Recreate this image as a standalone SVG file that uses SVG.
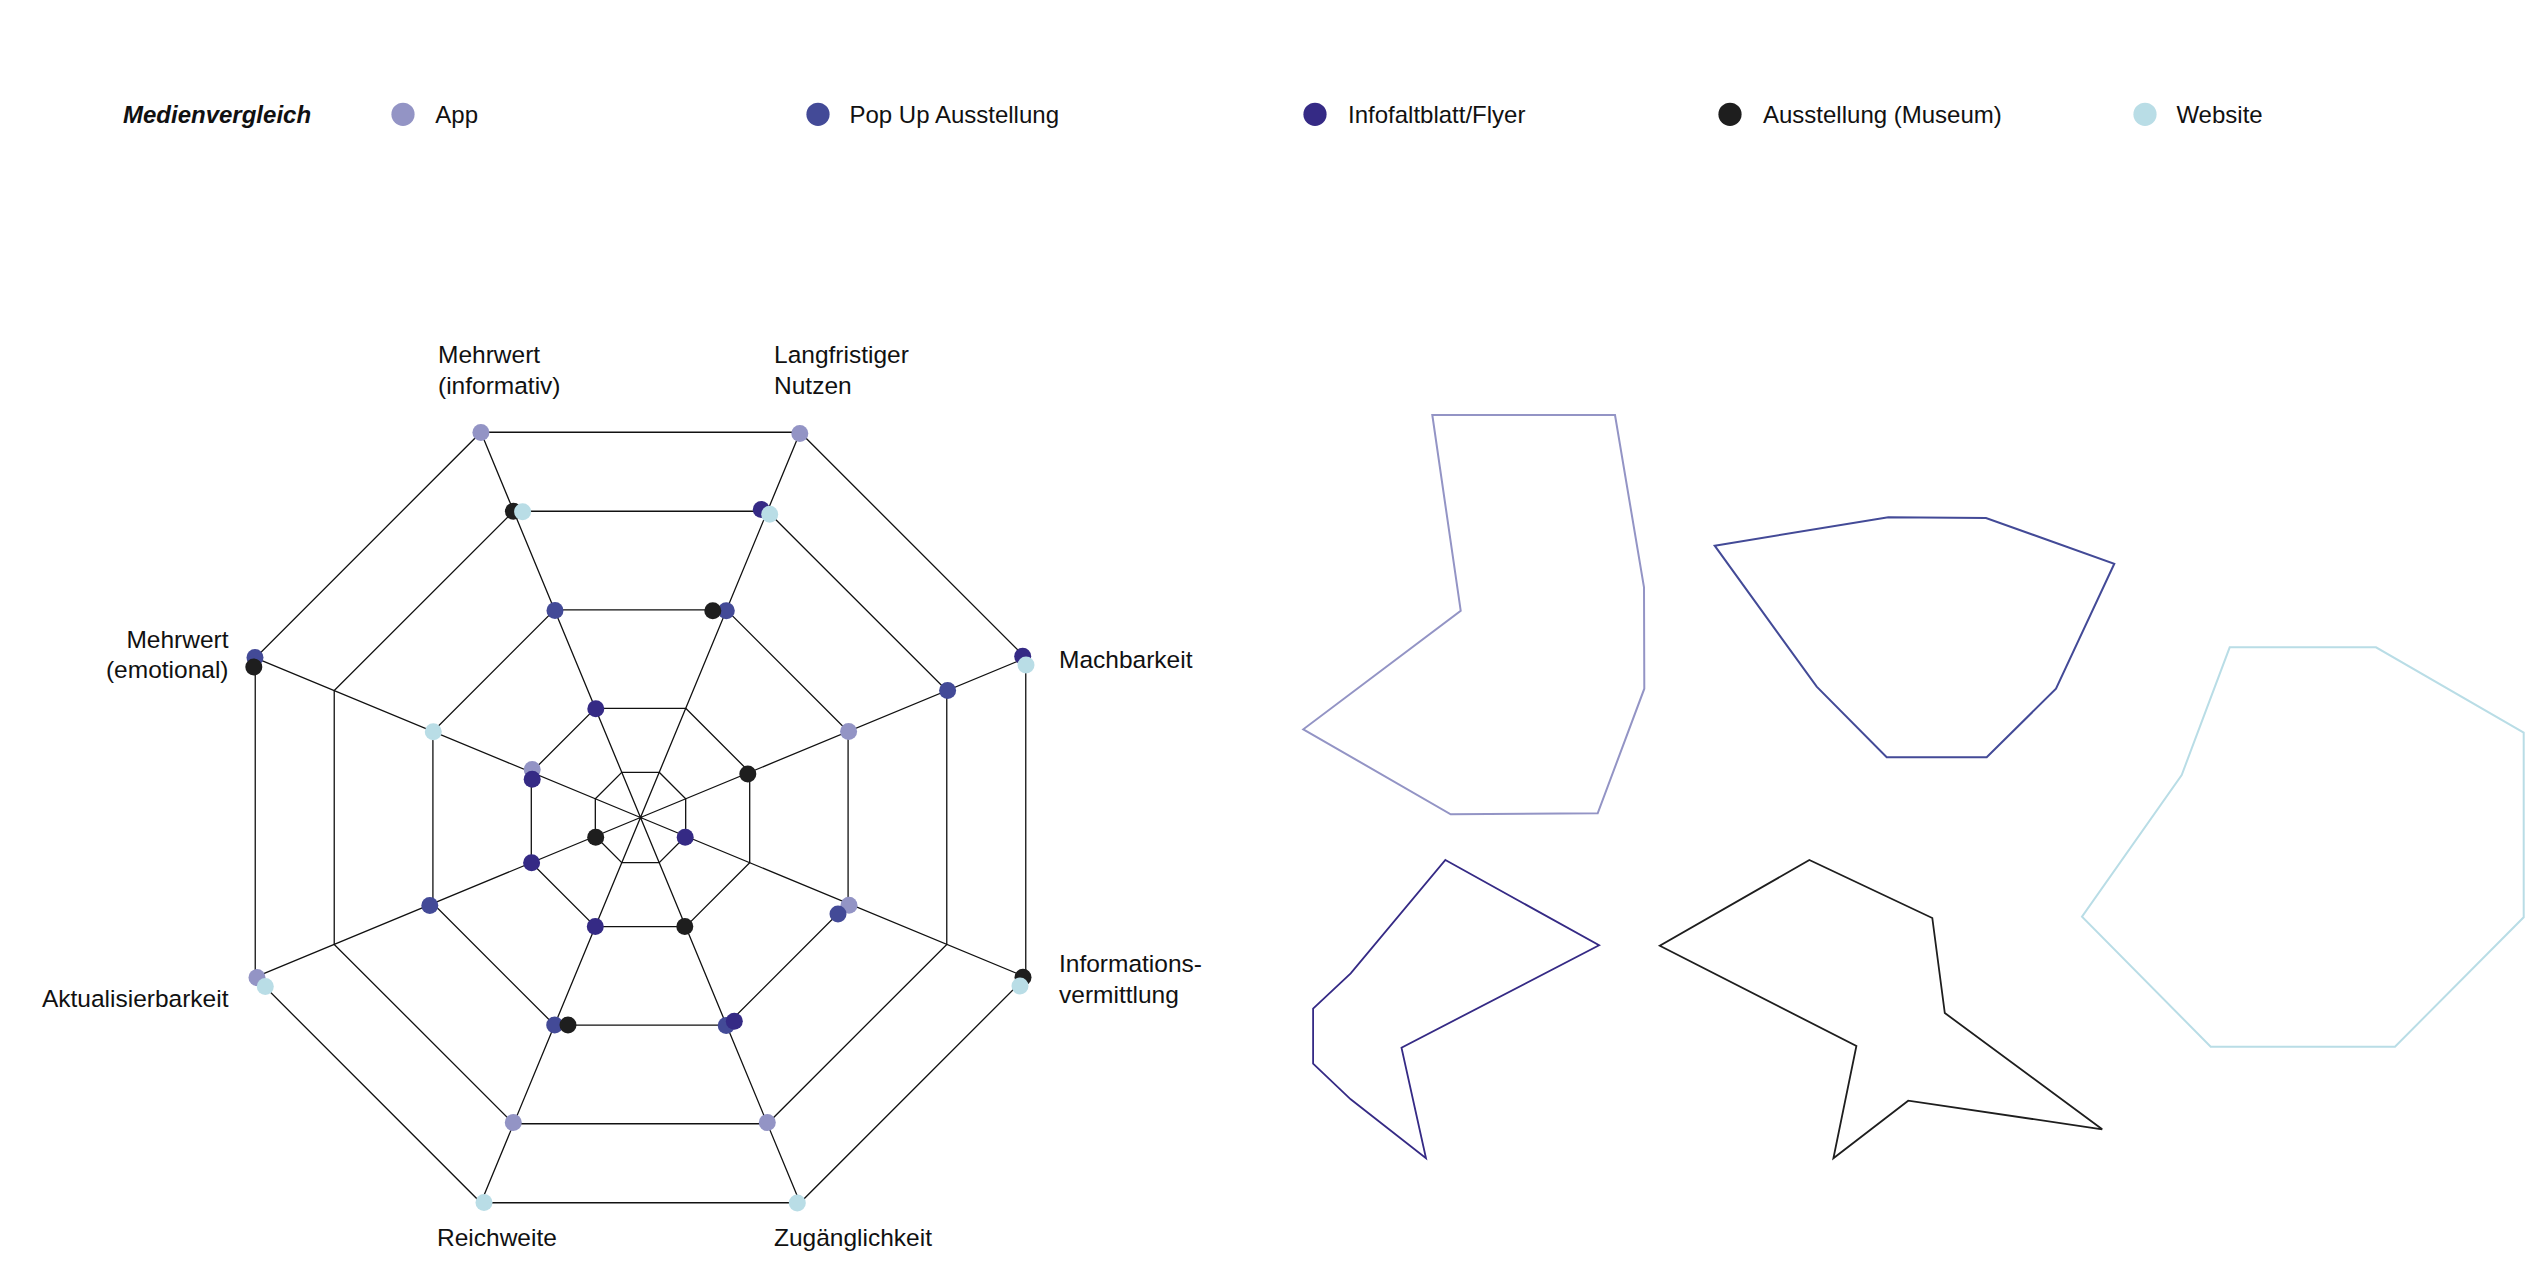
<svg xmlns="http://www.w3.org/2000/svg" width="2542" height="1284" viewBox="0 0 2542 1284">
<style>
text{font-family:"Liberation Sans",Arial,sans-serif;fill:#111}
.lg{font-size:24px}
.ax{font-size:24.5px}
.grid{fill:none;stroke:#111;stroke-width:1.3}
.app{fill:#9394c5}.pop{fill:#434a97}.inf{fill:#352a85}.mus{fill:#1e1e1e}.web{fill:#b9dde6}
.shape{fill:none;stroke-width:2;stroke-linejoin:miter}
</style>
<rect width="2542" height="1284" fill="#fff"/>

<g id="legend">
<text x="123" y="123" style="font-size:24px;font-weight:bold;font-style:italic">Medienvergleich</text>
<g id="legend-app"><circle class="app" cx="403" cy="114.3" r="11.6"/><text class="lg" x="435.3" y="122.7">App</text></g>
<g id="legend-popup"><circle class="pop" cx="818" cy="114.3" r="11.6"/><text class="lg" x="849.5" y="122.7">Pop Up Ausstellung</text></g>
<g id="legend-flyer"><circle class="inf" cx="1315" cy="114.3" r="11.6"/><text class="lg" x="1348" y="122.7">Infofaltblatt/Flyer</text></g>
<g id="legend-museum"><circle class="mus" cx="1730" cy="114.3" r="11.6"/><text class="lg" x="1763" y="122.7">Ausstellung (Museum)</text></g>
<g id="legend-website"><circle class="web" cx="2145" cy="114.3" r="11.6"/><text class="lg" x="2176.4" y="122.7">Website</text></g>
</g>

<g id="connectors" class="grid">
<polygon points="659.21,772.32 685.68,798.79 685.68,836.21 659.21,862.68 621.79,862.68 595.32,836.21 595.32,798.79 621.79,772.32"/>
<polygon points="685.73,708.3 749.7,772.27 749.7,862.73 685.73,926.7 595.27,926.7 531.3,862.73 531.3,772.27 595.27,708.3"/>
<polygon points="726.49,609.91 848.09,731.51 848.09,903.49 726.49,1025.09 554.51,1025.09 432.91,903.49 432.91,731.51 554.51,609.91"/>
<polygon points="767.36,511.23 946.77,690.64 946.77,944.36 767.36,1123.77 513.64,1123.77 334.23,944.36 334.23,690.64 513.64,511.23"/>
<polygon points="800.08,432.24 1025.76,657.92 1025.76,977.08 800.08,1202.76 480.92,1202.76 255.24,977.08 255.24,657.92 480.92,432.24"/>
<path d="M640.5 817.5L800.08 432.24M640.5 817.5L1025.76 657.92M640.5 817.5L1025.76 977.08M640.5 817.5L800.08 1202.76M640.5 817.5L480.92 1202.76M640.5 817.5L255.24 977.08M640.5 817.5L255.24 657.92M640.5 817.5L480.92 432.24"/>
</g>

<g id="axis-labels">
<g id="label-mehrwert-informativ"><text class="ax" x="438" y="363">Mehrwert</text><text class="ax" x="438" y="394">(informativ)</text></g>
<g id="label-langfristiger-nutzen"><text class="ax" x="774" y="363">Langfristiger</text><text class="ax" x="774" y="394">Nutzen</text></g>
<g id="label-machbarkeit"><text class="ax" x="1059" y="668">Machbarkeit</text></g>
<g id="label-informationsvermittlung"><text class="ax" x="1059" y="972">Informations-</text><text class="ax" x="1059" y="1003">vermittlung</text></g>
<g id="label-zugaenglichkeit"><text class="ax" x="774" y="1246">Zugänglichkeit</text></g>
<g id="label-reichweite"><text class="ax" x="437" y="1246">Reichweite</text></g>
<g id="label-aktualisierbarkeit"><text class="ax" x="228.5" y="1007" text-anchor="end">Aktualisierbarkeit</text></g>
<g id="label-mehrwert-emotional"><text class="ax" x="228.5" y="648" text-anchor="end">Mehrwert</text><text class="ax" x="228.5" y="678" text-anchor="end">(emotional)</text></g>
</g>

<g id="dots-app" class="app">
<circle cx="480.9" cy="432.5" r="8.5"/>
<circle cx="799.8" cy="433.5" r="8.5"/>
<circle cx="848.6" cy="731.6" r="8.5"/>
<circle cx="849" cy="905.2" r="8.5"/>
<circle cx="767.3" cy="1122.6" r="8.5"/>
<circle cx="513.3" cy="1122.6" r="8.5"/>
<circle cx="257" cy="977.6" r="8.5"/>
<circle cx="532.2" cy="769.5" r="8.5"/>
</g>
<g id="dots-popup" class="pop">
<circle cx="555" cy="610.5" r="8.5"/>
<circle cx="726.3" cy="610.8" r="8.5"/>
<circle cx="947.6" cy="690.5" r="8.5"/>
<circle cx="838" cy="914" r="8.5"/>
<circle cx="726.2" cy="1025.5" r="8.5"/>
<circle cx="554.7" cy="1025" r="8.5"/>
<circle cx="429.8" cy="905.6" r="8.5"/>
<circle cx="255" cy="657.6" r="8.5"/>
</g>
<g id="dots-flyer" class="inf">
<circle cx="595.8" cy="708.8" r="8.5"/>
<circle cx="761.3" cy="509.4" r="8.5"/>
<circle cx="1022.7" cy="656.2" r="8.5"/>
<circle cx="685.2" cy="837.2" r="8.5"/>
<circle cx="734.3" cy="1021.2" r="8.5"/>
<circle cx="595.3" cy="926.6" r="8.5"/>
<circle cx="531.6" cy="862.7" r="8.5"/>
<circle cx="532.2" cy="779.3" r="8.5"/>
</g>
<g id="dots-museum" class="mus">
<circle cx="513.4" cy="511.2" r="8.5"/>
<circle cx="712.8" cy="610.7" r="8.5"/>
<circle cx="747.8" cy="774" r="8.5"/>
<circle cx="1023" cy="977.3" r="8.5"/>
<circle cx="684.8" cy="926.6" r="8.5"/>
<circle cx="568" cy="1025" r="8.5"/>
<circle cx="595.7" cy="837.3" r="8.5"/>
<circle cx="253.8" cy="667" r="8.5"/>
</g>
<g id="dots-website" class="web">
<circle cx="522.6" cy="511.7" r="8.5"/>
<circle cx="769.7" cy="514.3" r="8.5"/>
<circle cx="1026" cy="665" r="8.5"/>
<circle cx="1020" cy="986" r="8.5"/>
<circle cx="797.3" cy="1203" r="8.5"/>
<circle cx="484" cy="1202.5" r="8.5"/>
<circle cx="265.3" cy="986.6" r="8.5"/>
<circle cx="433.3" cy="731.7" r="8.5"/>
</g>

<g id="shape-app"><polygon class="shape" stroke="#9394c5" points="1432.3,415 1615,415 1644,587.3 1644.3,688.7 1597.7,813.3 1450.7,814.3 1303.3,729.3 1460.7,610.7"/></g>
<g id="shape-popup"><polygon class="shape" stroke="#434a97" points="1714.7,545.7 1888.3,517.3 1986,518 2114.3,563.7 2056,688.7 1986.7,757.3 1886.7,757.3 1816.7,686.7"/></g>
<g id="shape-website"><polygon class="shape" stroke="#b9dde6" points="2229.7,647.3 2376,647.3 2523.7,732.7 2523.7,917.3 2395,1046.7 2210.7,1046.7 2082,916.7 2181.7,775"/></g>
<g id="shape-flyer"><polygon class="shape" stroke="#352a85" style="stroke-width:1.8" points="1445.4,860 1599.1,945.3 1401.5,1047.7 1426,1158.3 1350.7,1099.3 1313.1,1063.7 1313.1,1008.7 1350.7,973.3"/></g>
<g id="shape-museum"><polygon class="shape" stroke="#1e1e1e" style="stroke-width:1.8" points="1809.4,860 1932.3,918 1944.8,1013 2102.2,1129.3 1908.2,1100.7 1833.4,1158.3 1856.4,1046 1659.8,945.7"/></g>
</svg>
